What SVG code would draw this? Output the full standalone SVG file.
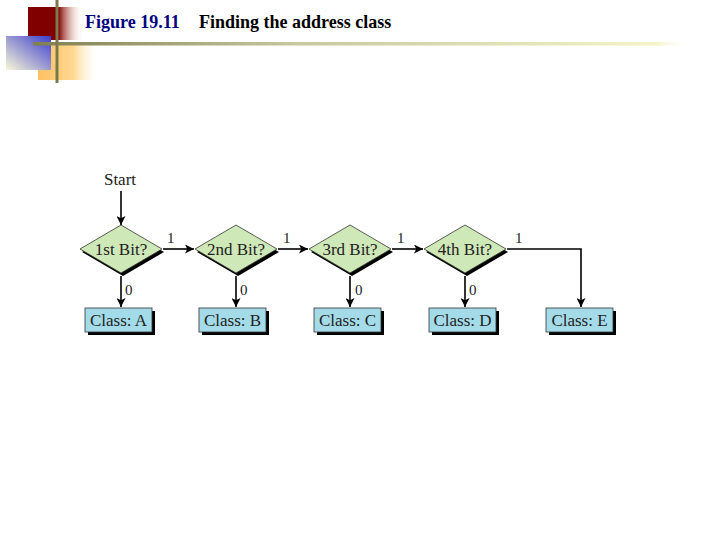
<svg xmlns="http://www.w3.org/2000/svg" width="720" height="540" viewBox="0 0 720 540">
<defs>
<linearGradient id="gRed" x1="0" y1="0" x2="1" y2="0">
<stop offset="0" stop-color="#800000"/><stop offset="0.55" stop-color="#800000"/><stop offset="1" stop-color="#fff8e0" stop-opacity="0"/>
</linearGradient>
<linearGradient id="gBlue" x1="1" y1="0" x2="0" y2="1">
<stop offset="0" stop-color="#3c3ccc"/><stop offset="1" stop-color="#f8f8d8"/>
</linearGradient>
<linearGradient id="gOr" x1="0" y1="0" x2="1" y2="0">
<stop offset="0" stop-color="#ffc060"/><stop offset="0.6" stop-color="#ffd890"/><stop offset="1" stop-color="#fff8e0" stop-opacity="0"/>
</linearGradient>
<linearGradient id="gLine" x1="0" y1="0" x2="1" y2="0">
<stop offset="0" stop-color="#7f7f50"/><stop offset="0.4" stop-color="#c8c8a0"/><stop offset="0.95" stop-color="#f4f4c8"/><stop offset="1" stop-color="#ffffff" stop-opacity="0"/>
</linearGradient>
<marker id="ah" viewBox="0 0 10 10" refX="10" refY="5" markerWidth="10" markerHeight="9" markerUnits="userSpaceOnUse" orient="auto">
<path d="M0,0 L10,5 L0,10 L2.5,5 z" fill="#000"/>
</marker>
</defs>
<style>
.t{font-family:"Liberation Serif","Times New Roman",serif;font-size:17px;fill:#222}
.lb{font-family:"Liberation Serif","Times New Roman",serif;font-size:15px;fill:#222}
.dia{fill:#cfe8b8;stroke:#333;stroke-width:0.8}
.sh{fill:#000}
.box{fill:#a4dbe8;stroke:#333;stroke-width:0.8}
.c{stroke:#000;stroke-width:1.6;fill:none;marker-end:url(#ah)}
</style>
<rect width="720" height="540" fill="#fff"/>
<g id="header">
<rect x="38" y="44" width="59" height="36" fill="url(#gOr)"/>
<rect x="28" y="7" width="55" height="33" fill="url(#gRed)"/>
<rect x="6" y="36" width="45" height="34" fill="url(#gBlue)"/>
<rect x="33" y="42" width="657" height="3.5" fill="url(#gLine)"/>
<rect x="55.5" y="0" width="3" height="83" fill="#7a7a4a"/>
<text x="85" y="28" font-family="Liberation Serif,serif" font-size="18" font-weight="bold" fill="#000080">Figure 19.11</text>
<text x="199" y="28" font-family="Liberation Serif,serif" font-size="18" font-weight="bold" fill="#000">Finding the address class</text>
</g>
<g id="start"><text class="t" x="120" y="185" text-anchor="middle">Start</text></g>
<g id="d1"><polygon class="sh" points="123,228 164,252 123,276 82,252"/><polygon class="dia" points="121,225 162,249 121,273 80,249"/><text class="t" x="121" y="255" text-anchor="middle">1st Bit?</text></g>
<g id="d2"><polygon class="sh" points="238,228 279,252 238,276 197,252"/><polygon class="dia" points="236,225 277,249 236,273 195,249"/><text class="t" x="236" y="255" text-anchor="middle">2nd Bit?</text></g>
<g id="d3"><polygon class="sh" points="352,228 393,252 352,276 311,252"/><polygon class="dia" points="350,225 391,249 350,273 309,249"/><text class="t" x="350" y="255" text-anchor="middle">3rd Bit?</text></g>
<g id="d4"><polygon class="sh" points="467,228 508,252 467,276 426,252"/><polygon class="dia" points="465,225 506,249 465,273 424,249"/><text class="t" x="465" y="255" text-anchor="middle">4th Bit?</text></g>
<g id="bA"><rect class="sh" x="88" y="311" width="67" height="24"/><rect class="box" x="85" y="308" width="67" height="24"/><text class="t" x="118.5" y="326" text-anchor="middle">Class: A</text></g>
<g id="bB"><rect class="sh" x="202" y="311" width="67" height="24"/><rect class="box" x="199" y="308" width="67" height="24"/><text class="t" x="232.5" y="326" text-anchor="middle">Class: B</text></g>
<g id="bC"><rect class="sh" x="317" y="311" width="67" height="24"/><rect class="box" x="314" y="308" width="67" height="24"/><text class="t" x="347.5" y="326" text-anchor="middle">Class: C</text></g>
<g id="bD"><rect class="sh" x="432" y="311" width="67" height="24"/><rect class="box" x="429" y="308" width="67" height="24"/><text class="t" x="462.5" y="326" text-anchor="middle">Class: D</text></g>
<g id="bE"><rect class="sh" x="549" y="311" width="67" height="24"/><rect class="box" x="546" y="308" width="67" height="24"/><text class="t" x="579.5" y="326" text-anchor="middle">Class: E</text></g>
<g id="connectors">
<path class="c" d="M121,191 V225"/>
<path class="c" d="M163,249 H194"/>
<path class="c" d="M278,249 H308"/>
<path class="c" d="M392,249 H423"/>
<path class="c" d="M507,249 H581 V307"/>
<path class="c" d="M121,276 V307"/>
<path class="c" d="M236,276 V307"/>
<path class="c" d="M350,276 V307"/>
<path class="c" d="M465,276 V307"/>
<text class="lb" x="167" y="243">1</text>
<text class="lb" x="283" y="243">1</text>
<text class="lb" x="397" y="243">1</text>
<text class="lb" x="515" y="243">1</text>
<text class="lb" x="125" y="295">0</text>
<text class="lb" x="240" y="295">0</text>
<text class="lb" x="355" y="295">0</text>
<text class="lb" x="469" y="295">0</text>
</g>
</svg>
